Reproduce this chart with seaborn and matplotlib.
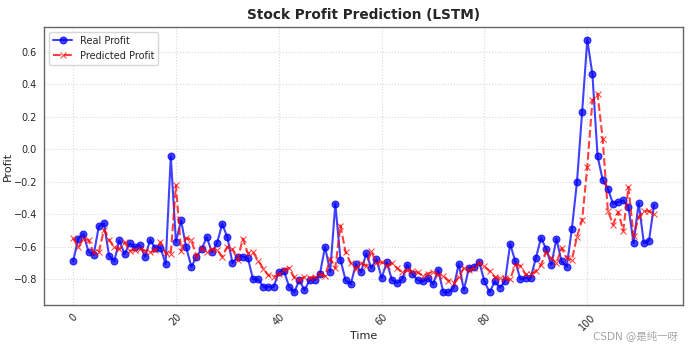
import numpy as np
import pandas as pd
import seaborn as sns

import matplotlib
matplotlib.use('Agg')
import matplotlib.pyplot as plt

# real profit values (time steps 0..113)
real_profit = [
    -0.69, -0.55, -0.52, -0.63, -0.65, -0.475, -0.455, -0.655, -0.69, -0.56,
    -0.645, -0.578, -0.603, -0.59, -0.66, -0.557, -0.61, -0.605, -0.706, -0.043,
    -0.57, -0.438, -0.604, -0.722, -0.662, -0.613, -0.541, -0.634, -0.578, -0.459,
    -0.541, -0.70, -0.66, -0.66, -0.67, -0.80, -0.80, -0.846, -0.846, -0.846,
    -0.757, -0.747, -0.844, -0.88, -0.805, -0.866, -0.805, -0.805, -0.767, -0.60,
    -0.753, -0.335, -0.68, -0.805, -0.83, -0.706, -0.757, -0.64, -0.73, -0.675,
    -0.792, -0.695, -0.802, -0.823, -0.80, -0.71, -0.767, -0.805, -0.813, -0.792,
    -0.83, -0.741, -0.88, -0.88, -0.85, -0.706, -0.864, -0.73, -0.725, -0.695,
    -0.813, -0.88, -0.813, -0.85, -0.813, -0.582, -0.69, -0.80, -0.79, -0.79,
    -0.669, -0.545, -0.613, -0.71, -0.551, -0.69, -0.722, -0.49, -0.20, 0.23,
    0.673, 0.46, -0.043, -0.19, -0.243, -0.335, -0.325, -0.315, -0.355, -0.578,
    -0.33, -0.578, -0.562, -0.34,
]

# LSTM predictions
predicted_profit = [
    -0.547, -0.603, -0.55, -0.56, -0.634, -0.634, -0.496, -0.557, -0.603, -0.613,
    -0.572, -0.623, -0.62, -0.613, -0.623, -0.634, -0.62, -0.572, -0.64, -0.645,
    -0.222, -0.623, -0.545, -0.56, -0.66, -0.61, -0.63, -0.615, -0.62, -0.66,
    -0.60, -0.615, -0.68, -0.55, -0.64, -0.634, -0.685, -0.735, -0.775, -0.785,
    -0.767, -0.743, -0.73, -0.788, -0.805, -0.785, -0.79, -0.785, -0.77, -0.78,
    -0.675, -0.73, -0.469, -0.634, -0.70, -0.735, -0.70, -0.716, -0.628, -0.70,
    -0.695, -0.715, -0.70, -0.73, -0.757, -0.745, -0.75, -0.757, -0.777, -0.764,
    -0.752, -0.771, -0.777, -0.808, -0.824, -0.785, -0.73, -0.745, -0.73, -0.70,
    -0.72, -0.75, -0.785, -0.792, -0.792, -0.80, -0.71, -0.716, -0.77, -0.77,
    -0.75, -0.71, -0.634, -0.67, -0.70, -0.607, -0.67, -0.68, -0.537, -0.434,
    -0.109, 0.30, 0.34, 0.06, -0.377, -0.463, -0.385, -0.50, -0.233, -0.531,
    -0.418, -0.38, -0.38, -0.40,
]

time_steps = np.arange(len(real_profit))

df = pd.DataFrame({
    "Time": time_steps,
    "Real Profit": real_profit,
    "Predicted Profit": predicted_profit,
})

sns.set_style("whitegrid", {
    "axes.edgecolor": "0.4",
    "grid.color": "0.85",
    "grid.linestyle": ":",
})
plt.rcParams['font.family'] = ['DejaVu Sans', 'Noto Sans CJK SC']

fig, ax = plt.subplots(figsize=(6.88, 3.51), dpi=100)
fig.subplots_adjust(left=0.064, right=0.993, top=0.923, bottom=0.131)

sns.lineplot(data=df, x="Time", y="Real Profit", ax=ax,
             color="blue", marker="o", markersize=5,
             markeredgecolor="blue", linewidth=1.5, alpha=0.75,
             label="Real Profit")
sns.lineplot(data=df, x="Time", y="Predicted Profit", ax=ax,
             color="red", marker="x", markersize=5, linestyle="--",
             markeredgecolor="red", linewidth=1.5, alpha=0.75,
             label="Predicted Profit")

ax.set_title("Stock Profit Prediction (LSTM)", fontsize=9.8, fontweight="bold", pad=6)
ax.set_xlabel("Time", fontsize=8)
ax.set_ylabel("Profit", fontsize=8)
ax.xaxis.set_label_coords(0.5, -0.094)
ax.yaxis.set_label_coords(-0.048, 0.5)
ax.tick_params(axis="both", labelsize=7, length=3, color="0.4", pad=2)
ax.tick_params(axis="x", rotation=45)
for spine in ax.spines.values():
    spine.set_linewidth(1.0)

ax.legend(loc="upper left", fontsize=7, frameon=True)

# watermark from the source image
fig.text(0.985, 0.045, "CSDN @是纯一呀", ha="right", va="center",
         fontsize=7.5, color="0.65",
         family=['DejaVu Sans', 'Noto Sans CJK SC'])

plt.savefig("out.png", dpi=100)
plt.close()
